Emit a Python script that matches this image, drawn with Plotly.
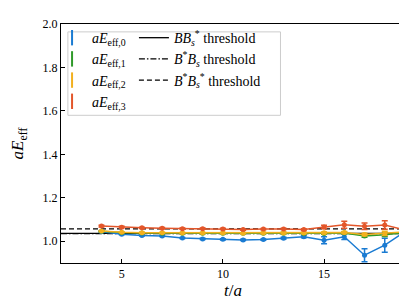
import plotly.graph_objects as go

t = [4, 5, 6, 7, 8, 9, 10, 11, 12, 13, 14, 15, 16, 17, 18, 19]

E0 = [1.044, 1.032, 1.026, 1.024, 1.015, 1.011, 1.009, 1.006, 1.008, 1.014, 1.021, 1.005, 1.021, 0.936, 0.982, 1.044]
E0_err = [0.002, 0.002, 0.002, 0.002, 0.002, 0.003, 0.003, 0.003, 0.003, 0.004, 0.005, 0.016, 0.013, 0.030, 0.032, 0.068]
E1 = [1.046, 1.040, 1.038, 1.037, 1.037, 1.037, 1.037, 1.037, 1.037, 1.037, 1.036, 1.036, 1.038, 1.024, 1.030, 1.040]
E1_err = [0.002, 0.002, 0.002, 0.002, 0.002, 0.002, 0.002, 0.002, 0.002, 0.003, 0.003, 0.004, 0.005, 0.006, 0.008, 0.010]
E2 = [1.047, 1.041, 1.039, 1.039, 1.038, 1.038, 1.038, 1.037, 1.038, 1.038, 1.038, 1.039, 1.040, 1.031, 1.036, 1.043]
E2_err = [0.002, 0.002, 0.002, 0.002, 0.002, 0.002, 0.002, 0.002, 0.002, 0.003, 0.003, 0.004, 0.005, 0.006, 0.010, 0.012]
E3 = [1.070, 1.065, 1.062, 1.060, 1.058, 1.058, 1.057, 1.054, 1.056, 1.057, 1.054, 1.066, 1.076, 1.069, 1.075, 1.052]
E3_err = [0.004, 0.004, 0.003, 0.003, 0.003, 0.003, 0.003, 0.003, 0.003, 0.003, 0.004, 0.008, 0.016, 0.015, 0.020, 0.028]

series_names = ["<i>aE</i><sub>eff,0</sub>", "<i>aE</i><sub>eff,1</sub>",
                "<i>aE</i><sub>eff,2</sub>", "<i>aE</i><sub>eff,3</sub>"]
series_colors = ["#1a7bd2", "#2f9a2a", "#f2b01e", "#e3562a"]

thr_names = ["<i>BB</i><sub><i>s</i></sub><sup>*</sup> threshold",
             "<i>B</i><sup>*</sup><i>B</i><sub><i>s</i></sub> threshold",
             "<i>B</i><sup>*</sup><i>B</i><sub><i>s</i></sub><sup>*</sup> threshold"]
thr_values = [1.036, 1.035, 1.057]
thr_dash = ["solid", "6px,2px,1.5px,2px", "5px,3px"]

x_range = [2, 19]
y_range = [0.9, 2.0]

fig = go.Figure()

# thresholds first (drawn beneath)
for name, val, dash in zip(thr_names, thr_values, thr_dash):
    fig.add_trace(go.Scatter(
        x=x_range, y=[val, val], mode="lines", name=name,
        line=dict(color="black", width=1.3, dash=dash),
        legend="legend2"))

for name, y, err, col in zip(series_names, [E0, E1, E2, E3],
                             [E0_err, E1_err, E2_err, E3_err], series_colors):
    fig.add_trace(go.Scatter(
        x=t, y=y, mode="lines+markers", name=name,
        line=dict(color=col, width=1.5),
        marker=dict(color=col, size=5, symbol="circle"),
        error_y=dict(type="data", array=err, visible=True, color=col,
                     thickness=1.5, width=3),
        showlegend=False))

# legend entries mimicking error-bar glyphs
for name, col in zip(series_names, series_colors):
    fig.add_trace(go.Scatter(
        x=[None], y=[None], mode="markers", name=name,
        marker=dict(color=col, symbol="line-ns", size=11,
                    line=dict(color=col, width=2)),
        legend="legend"))

font_family = "Liberation Serif, DejaVu Serif, serif"

fig.update_layout(
    width=407, height=305,
    margin=dict(l=53, r=9, t=14, b=50),
    plot_bgcolor="white", paper_bgcolor="white",
    font=dict(family=font_family, size=12, color="black"),
    showlegend=True,
    legend=dict(x=-0.026, y=1.008, xanchor="left", yanchor="top",
                bgcolor="rgba(0,0,0,0)", borderwidth=0,
                font=dict(size=14, family=font_family),
                tracegroupgap=0, itemwidth=30),
    legend2=dict(x=0.212, y=1.008, xanchor="left", yanchor="top",
                 bgcolor="rgba(0,0,0,0)", borderwidth=0,
                 font=dict(size=14, family=font_family),
                 tracegroupgap=0, itemwidth=30),
    shapes=[dict(type="rect", xref="paper", yref="paper",
                 x0=0.02, x1=0.638, y0=0.618, y1=0.967,
                 line=dict(color="#cccccc", width=1),
                 fillcolor="rgba(255,255,255,0.8)", layer="below")],
    xaxis=dict(range=x_range, tickvals=[5, 10, 15], ticks="inside", ticklen=4,
               tickcolor="black", showline=True, linecolor="black", linewidth=1,
               mirror=True, showgrid=False, zeroline=False,
               tickfont=dict(size=12, family=font_family),
               title=dict(text="<i>t</i>/<i>a</i>", font=dict(size=17, family=font_family),
                          standoff=0)),
    yaxis=dict(range=y_range, tickvals=[1.0, 1.2, 1.4, 1.6, 1.8, 2.0], tickformat=".1f",
               ticks="inside", ticklen=4, tickcolor="black",
               showline=True, linecolor="black", linewidth=1,
               mirror=True, showgrid=False, zeroline=False,
               tickfont=dict(size=12, family=font_family),
               title=dict(text="<i>aE</i><sub>eff</sub>", font=dict(size=17, family=font_family),
                          standoff=14)),
)

fig.write_html("out.html")
